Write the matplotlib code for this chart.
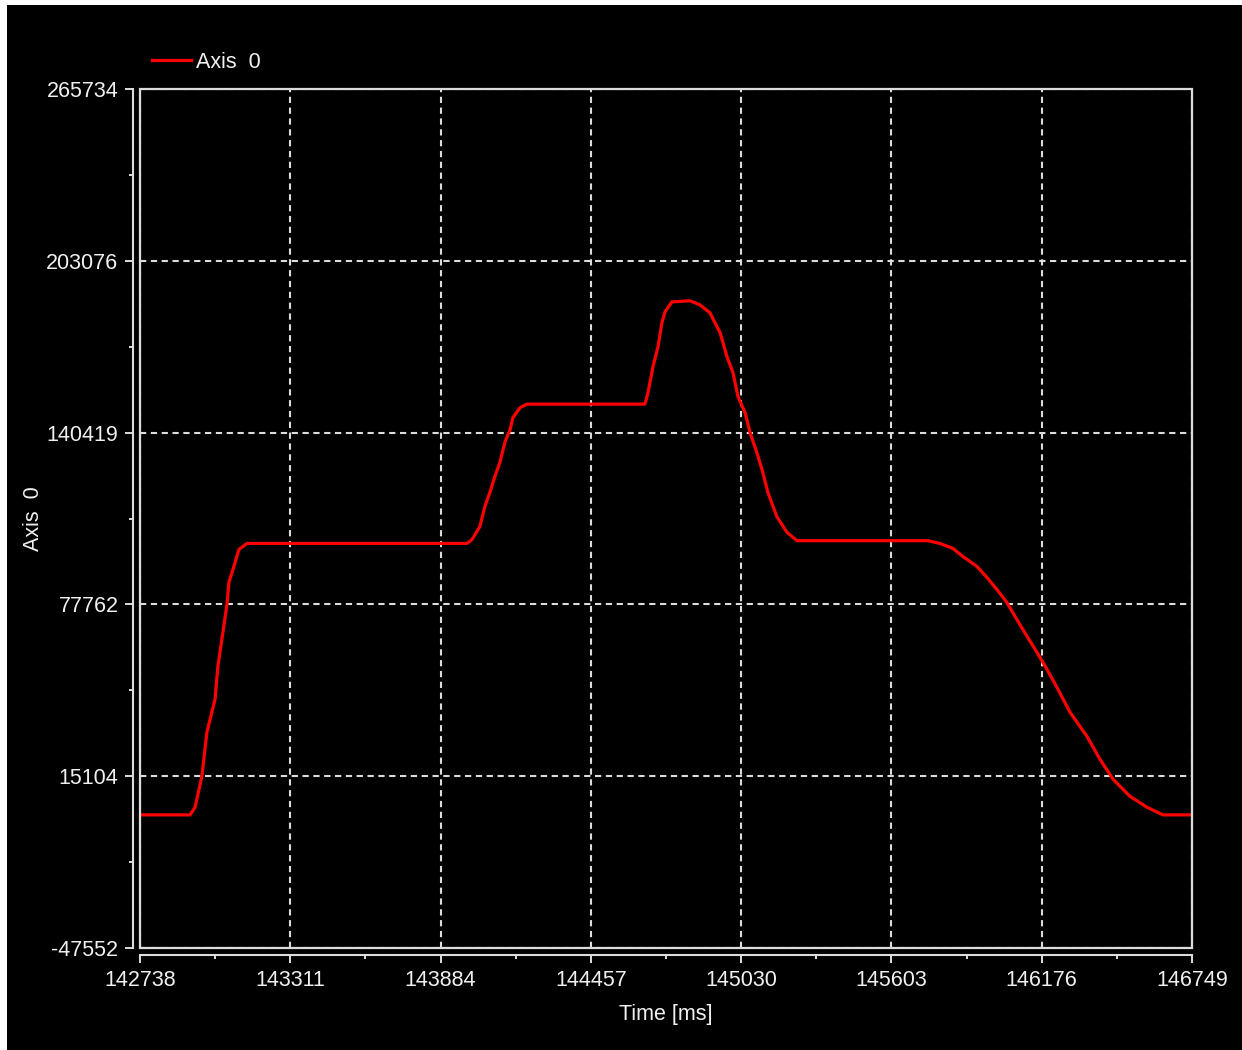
import matplotlib
matplotlib.use('Agg')
import matplotlib.pyplot as plt
from matplotlib.patches import Rectangle
from matplotlib.ticker import AutoMinorLocator

plt.rcParams['font.family'] = ['Liberation Sans', 'DejaVu Sans']

time_ms = [142738, 142929, 142948, 142974, 142993, 143024, 143035, 143054, 143070,
           143077, 143096, 143115, 143146,
           143985, 144004, 144034, 144053, 144072, 144091, 144110, 144130, 144149,
           144160, 144187, 144213,
           144663, 144675, 144694, 144713, 144728, 144740, 144766, 144835, 144873,
           144911, 144950, 144976, 144999, 145018, 145045, 145064, 145090, 145113,
           145132, 145166, 145205, 145243,
           145742, 145788, 145837, 145876, 145929, 145967, 146005, 146043, 146081,
           146120, 146158, 146196, 146238, 146284, 146348, 146398, 146448, 146512,
           146577, 146638, 146749]
axis0 = [1000, 1000, 3800, 15100, 31100, 43100, 55200, 67500, 78100,
         85800, 91600, 97800, 100000,
         100000, 101400, 106200, 113500, 118600, 124400, 129500, 137100, 141500,
         145900, 149500, 150800,
         150800, 155000, 164500, 171700, 180500, 184500, 188100, 188500, 187000,
         184100, 176800, 168100, 162300, 153500, 147700, 140400, 133100, 125800,
         118600, 109800, 104000, 101000,
         101000, 100000, 98200, 95200, 91600, 87600, 83200, 78500, 72300,
         66100, 60300, 54100, 46800, 38400, 29700, 21300, 14000, 7800,
         3800, 1000, 1000]

x_ticks = [142738, 143311, 143884, 144457, 145030, 145603, 146176, 146749]
y_ticks = [-47552, 15104, 77762, 140419, 203076, 265734]

fg = '#dcdcdc'
txt = '#f0f0f0'
fs = 15.5

fig = plt.figure(figsize=(12.42, 10.5), dpi=100, facecolor='white')
fig.patches.append(Rectangle((7 / 1242, 0), 1, 1 - 5 / 1050, transform=fig.transFigure,
                             facecolor='black', edgecolor='none', zorder=-5))

ax = fig.add_axes([140 / 1242, 1 - 948 / 1050, 1052 / 1242, 859 / 1050])
ax.set_zorder(2)
ax.set_facecolor('black')

ax.plot(time_ms, axis0, color='#ff0000', lw=2.3, label='Axis  0', zorder=3)

ax.set_xlim(x_ticks[0], x_ticks[-1])
ax.set_ylim(y_ticks[0], y_ticks[-1])
ax.set_xticks(x_ticks)
ax.set_yticks(y_ticks)
ax.set_xticklabels([str(v) for v in x_ticks])
ax.set_yticklabels([str(v) for v in y_ticks])
ax.xaxis.set_minor_locator(AutoMinorLocator(2))
ax.yaxis.set_minor_locator(AutoMinorLocator(2))

ax.grid(True, which='major', color=fg, lw=1.5, linestyle=(0, (3, 2.2)), zorder=1)

for s in ['top', 'right']:
    ax.spines[s].set_visible(False)
for s in ['left', 'bottom']:
    ax.spines[s].set_position(('outward', 5))
    ax.spines[s].set_color(fg)
    ax.spines[s].set_linewidth(1.5)

# inner plot frame
ax.add_patch(Rectangle((0, 0), 1, 1, transform=ax.transAxes, fill=False,
                       edgecolor=fg, lw=1.6, clip_on=False, zorder=4))

ax.tick_params(which='major', direction='out', length=5.5, width=1.4, color=fg,
               labelcolor=txt, labelsize=fs, pad=5)
ax.tick_params(which='minor', direction='out', length=3, width=1.4, color=fg)

ax.set_xlabel('Time [ms]', color=txt, fontsize=fs, labelpad=10)
ax.set_ylabel('Axis  0', color=txt, fontsize=fs, labelpad=2)

leg = ax.legend(loc='center left', bbox_to_anchor=(0.011, 1.031), frameon=False,
                borderpad=0, borderaxespad=0, handlelength=1.85, handletextpad=0.2,
                fontsize=fs)
for t in leg.get_texts():
    t.set_color(txt)

fig.savefig('out.png', dpi=100, facecolor=fig.get_facecolor())
